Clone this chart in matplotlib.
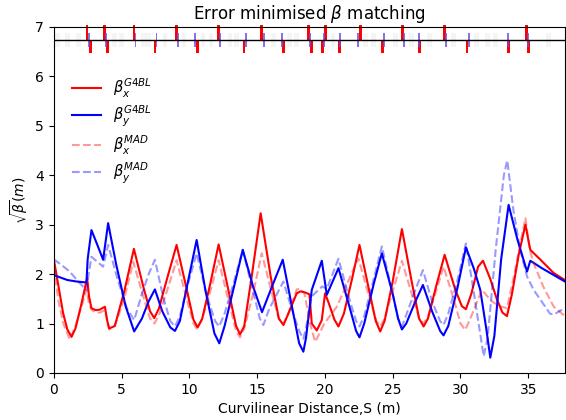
import matplotlib
matplotlib.use("Agg")
import matplotlib.pyplot as plt

# beta_x from G4BL (s, sqrt(beta))
s_bx_g4bl = [0.0, 0.35, 0.69, 1.0, 1.31, 1.6, 2.0, 2.46, 2.6, 2.78, 3.1, 3.39, 3.77, 3.95, 4.09, 4.5,
             5.2, 5.91, 6.6, 7.1, 7.41, 7.75, 8.4, 9.06, 9.8, 10.3, 10.61, 10.95, 11.5, 12.16, 12.9,
             13.45, 13.74, 14.05, 14.6, 15.26, 16.0, 16.6, 16.94, 17.3, 17.92, 18.2, 18.53, 18.86,
             19.03, 19.4, 19.77, 20.01, 20.3, 20.7, 21.0, 21.4, 22.0, 22.55, 23.2, 23.75, 24.08, 24.4,
             25.0, 25.68, 26.4, 26.95, 27.28, 27.6, 28.2, 28.83, 29.6, 30.1, 30.4, 30.8, 31.3, 31.66,
             32.2, 32.7, 33.1, 33.43, 33.8, 34.3, 34.79, 35.0, 35.15, 35.9, 36.88, 37.7]
bx_g4bl = [2.30, 1.75, 1.21, 0.88, 0.73, 0.90, 1.35, 1.92, 1.55, 1.31, 1.27, 1.28, 1.34, 1.05, 0.90, 0.95,
           1.65, 2.51, 1.75, 1.25, 1.11, 1.30, 1.95, 2.59, 1.70, 1.08, 0.92, 1.10, 1.75, 2.60, 1.65,
           0.95, 0.78, 0.95, 1.95, 3.23, 1.95, 1.10, 0.97, 1.20, 1.61, 1.65, 1.63, 1.59,
           1.00, 0.86, 1.07, 1.61, 1.40, 1.08, 0.94, 1.20, 1.90, 2.59, 1.75, 1.05, 0.84, 1.05,
           1.85, 2.91, 1.85, 1.10, 0.94, 1.10, 1.75, 2.39, 1.70, 1.35, 1.29, 1.60, 2.15, 2.27,
           1.90, 1.48, 1.22, 1.15, 1.60, 2.40, 3.00, 2.70, 2.49, 2.29, 2.02, 1.88]

# beta_y from G4BL
s_by_g4bl = [0.0, 0.5, 1.0, 1.67, 2.41, 2.5, 2.78, 3.2, 3.64, 4.01, 4.6, 5.3, 5.93, 6.5, 7.0, 7.46, 8.0,
             8.6, 8.94, 9.3, 9.9, 10.54, 11.2, 11.85, 12.21, 12.6, 13.3, 13.94, 14.7, 15.36, 16.1,
             16.89, 17.6, 18.1, 18.41, 18.6, 19.03, 19.77, 20.14, 21.0, 21.8, 22.3, 22.55, 22.9, 23.6,
             24.2, 25.0, 25.4, 25.68, 26.0, 26.6, 27.23, 27.9, 28.5, 28.75, 29.1, 29.8, 30.4, 31.0,
             31.46, 31.9, 32.2, 32.5, 33.0, 33.55, 34.2, 34.91, 35.15, 36.0, 36.88, 37.7]
by_g4bl = [1.98, 1.93, 1.88, 1.85, 1.83, 2.30, 2.89, 2.60, 2.29, 3.03, 2.20, 1.35, 0.84, 1.10, 1.45, 1.69, 1.25,
           0.92, 0.85, 1.05, 1.85, 2.69, 1.65, 0.80, 0.60, 0.95, 1.75, 2.49, 1.75, 1.23, 1.75,
           2.29, 1.30, 0.60, 0.43, 0.70, 1.68, 2.27, 1.58, 2.12, 1.35, 0.85, 0.72, 1.00, 1.80,
           2.42, 1.60, 1.10, 0.88, 1.00, 1.40, 1.78, 1.25, 0.85, 0.76, 0.95, 1.75, 2.54, 2.10,
           1.68, 0.90, 0.31, 0.75, 2.30, 3.40, 2.70, 2.05, 2.27, 2.12, 1.98, 1.85]

# beta_x from MAD
s_bx_mad = [0.0, 0.35, 0.7, 1.18, 1.6, 2.0, 2.41, 2.6, 2.78, 3.1, 3.39, 3.77, 4.0, 4.09, 4.5, 5.2, 5.86,
            6.6, 7.1, 7.43, 7.8, 8.4, 9.06, 9.8, 10.3, 10.54, 10.9, 11.5, 12.16, 12.9, 13.45, 13.74,
            14.05, 14.7, 15.34, 16.1, 16.6, 16.94, 17.3, 17.92, 18.2, 18.5, 18.9, 19.28, 19.6, 19.95,
            20.88, 22.47, 23.2, 23.8, 24.08, 24.4, 25.0, 25.68, 26.4, 26.95, 27.28, 27.6, 28.2, 28.75,
            29.5, 30.0, 30.35, 30.8, 31.58, 32.3, 32.9, 33.43, 33.9, 34.4, 34.79, 35.1, 35.4, 36.1,
            36.88, 37.7]
bx_mad = [2.15, 1.45, 1.00, 0.68, 0.95, 1.30, 1.68, 1.40, 1.28, 1.22, 1.22, 1.27, 0.95, 0.88, 0.95, 1.50, 2.25,
          1.55, 1.10, 1.00, 1.20, 1.70, 2.28, 1.50, 1.00, 0.90, 1.05, 1.60, 2.28, 1.45, 0.85, 0.72,
          0.90, 1.60, 2.42, 1.60, 1.10, 0.99, 1.20, 1.69, 1.70, 1.60, 1.00, 0.63, 0.80, 1.00,
          1.34, 2.32, 1.60, 1.05, 0.94, 1.10, 1.65, 2.27, 1.60, 1.10, 1.00, 1.15, 1.65, 2.15,
          1.50, 1.00, 0.87, 1.15, 1.68, 1.45, 1.35, 1.31, 1.90, 2.60, 3.13, 2.50, 2.22, 1.75,
          1.34, 1.15]

# beta_y from MAD
s_by_mad = [0.0, 0.5, 1.18, 1.8, 2.41, 2.6, 2.78, 3.2, 3.64, 4.01, 4.7, 5.4, 5.93, 6.5, 7.0, 7.46, 8.1,
            8.6, 8.94, 9.3, 9.9, 10.54, 11.3, 11.9, 12.2, 12.6, 13.3, 13.94, 14.7, 15.2, 15.46, 15.9,
            16.94, 17.6, 18.1, 18.41, 18.6, 19.03, 19.8, 20.14, 21.0, 21.8, 22.3, 22.55, 22.9, 23.6,
            24.2, 25.0, 25.4, 25.68, 26.1, 26.7, 27.23, 27.9, 28.5, 28.75, 29.1, 29.8, 30.4, 31.0,
            31.71, 32.0, 32.6, 33.2, 33.45, 33.9, 34.4, 34.91, 35.4, 36.1, 36.6, 36.88, 37.3, 37.7]
by_mad = [2.30, 2.20, 2.05, 1.85, 1.68, 2.05, 2.35, 2.25, 2.15, 2.59, 1.90, 1.30, 1.07, 1.60, 2.00, 2.29, 1.50,
          1.05, 0.94, 1.15, 1.80, 2.42, 1.55, 1.05, 0.94, 1.20, 1.85, 2.49, 1.65, 1.10, 0.97, 1.30,
          1.85, 1.25, 0.85, 0.69, 0.90, 1.55, 1.75, 1.70, 2.31, 1.50, 1.05, 0.94, 1.15, 1.90,
          2.56, 1.60, 1.10, 0.94, 1.25, 1.70, 2.08, 1.45, 1.05, 0.97, 1.20, 1.90, 2.62, 1.60,
          0.34, 0.70, 2.50, 4.00, 4.30, 3.30, 2.50, 1.95, 1.68, 1.40, 1.20, 1.18, 1.25, 1.31]

# lattice elements (positions in m)
quad_f = [2.46, 3.74, 5.91, 9.06, 12.14, 15.34, 18.78, 20.06, 22.6, 25.73, 28.83, 34.86]
quad_d = [2.71, 3.94, 7.46, 10.59, 14.03, 16.94, 19.03, 19.84, 21.07, 24.25, 26.98, 30.48, 33.56, 35.03]
correctors = [2.58, 3.85, 6.03, 7.58, 9.15, 10.41, 12.26, 14.16, 15.5, 16.81, 18.9, 19.94, 21.12,
              22.46, 24.37, 25.85, 26.91, 28.95, 30.6, 33.48, 34.95]
other_elems = [0.3, 1.0, 1.8, 4.5, 5.0, 6.6, 7.0, 8.2, 9.6, 11.0, 11.6, 13.0, 13.5, 16.2, 17.4, 17.9,
               20.6, 23.0, 23.6, 25.2, 26.4, 27.7, 29.5, 31.2, 32.0, 32.6, 36.5]

fig, ax = plt.subplots(figsize=(5.66, 4.2), dpi=100)
fig.subplots_adjust(left=0.095, right=0.998, bottom=0.112, top=0.936)

ax.plot(s_bx_g4bl, bx_g4bl, color='red', lw=1.5, label=r'$\beta_x^{G4BL}$')
ax.plot(s_by_g4bl, by_g4bl, color='blue', lw=1.5, label=r'$\beta_y^{G4BL}$')
ax.plot(s_bx_mad, bx_mad, color='red', lw=1.5, ls='--', alpha=0.4, label=r'$\beta_x^{MAD}$')
ax.plot(s_by_mad, by_mad, color='blue', lw=1.5, ls='--', alpha=0.4, label=r'$\beta_y^{MAD}$')

# lattice strip on top
ax.axhline(6.73, color='black', lw=1)
ax.bar(other_elems, 0.27, bottom=6.6, width=0.35, color='gray', alpha=0.08)
ax.bar(quad_f, 0.3, bottom=6.73, width=0.2, color='red', clip_on=False)
ax.bar(quad_d, -0.25, bottom=6.73, width=0.2, color='red')
ax.bar(correctors, 0.27, bottom=6.6, width=0.14, color='#6a4ce0', alpha=0.8)

ax.set_xlim(0, 37.7)
ax.set_ylim(0, 7)
ax.set_title(r'Error minimised $\beta$ matching')
ax.set_xlabel('Curvilinear Distance,S (m)')
ax.set_ylabel(r'$\sqrt{\beta}(m)$')
ax.legend(loc='upper left', bbox_to_anchor=(0.01, 0.895), frameon=False, fontsize=10.5,
          labelspacing=0.3, handlelength=2.0)

plt.savefig('out.png', dpi=100)
